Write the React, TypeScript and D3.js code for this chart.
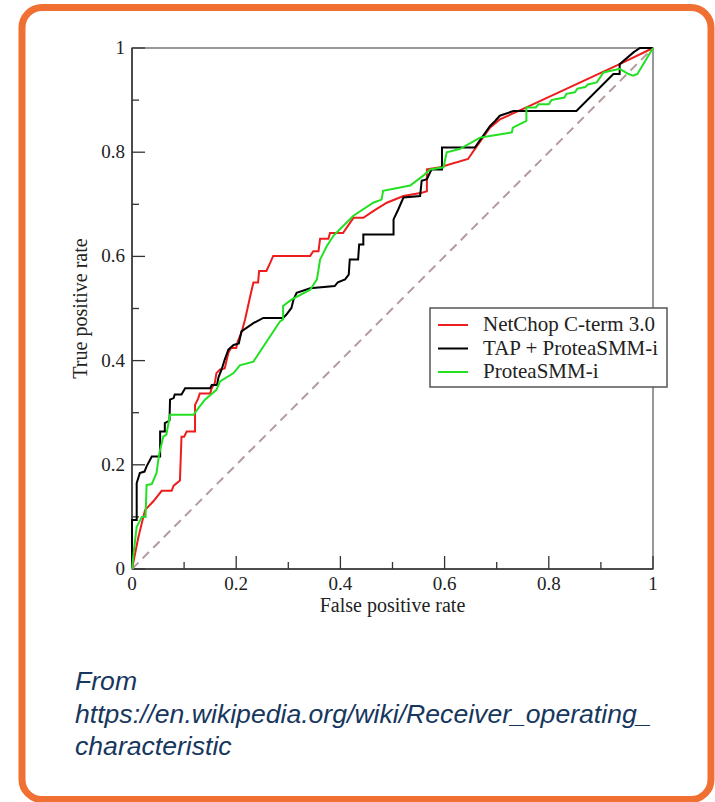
import React from "react";
import * as d3 from "d3";

type Pt = [number, number];

const seriesNames = ["NetChop C-term 3.0", "TAP + ProteaSMM-i", "ProteaSMM-i"];
const seriesColors = ["#ee1c1c", "#000000", "#22e022"];

const netChop: Pt[] = [
  [0, 0], [0.012, 0.06], [0.025, 0.113], [0.041, 0.13], [0.057, 0.15], [0.076, 0.15], [0.08, 0.16],
  [0.092, 0.17], [0.095, 0.254], [0.1, 0.254], [0.105, 0.264], [0.121, 0.264], [0.121, 0.315],
  [0.127, 0.327], [0.13, 0.337], [0.15, 0.337], [0.153, 0.347], [0.159, 0.357], [0.162, 0.376],
  [0.169, 0.383], [0.178, 0.385], [0.185, 0.415], [0.19, 0.424], [0.2, 0.424], [0.203, 0.437],
  [0.21, 0.453], [0.217, 0.479], [0.227, 0.524], [0.233, 0.55], [0.242, 0.55], [0.244, 0.572],
  [0.258, 0.572], [0.265, 0.587], [0.271, 0.601], [0.342, 0.601], [0.348, 0.61], [0.358, 0.61],
  [0.361, 0.634], [0.377, 0.634], [0.38, 0.645], [0.405, 0.645], [0.425, 0.674], [0.444, 0.674],
  [0.463, 0.687], [0.489, 0.703], [0.521, 0.716], [0.556, 0.722], [0.566, 0.725], [0.566, 0.767],
  [0.591, 0.771], [0.645, 0.787], [0.658, 0.806], [0.687, 0.847], [0.706, 0.863], [0.757, 0.886],
  [0.936, 0.969], [1, 1],
];

const tapProtea: Pt[] = [
  [0, 0], [0, 0.094], [0.009, 0.094], [0.009, 0.165], [0.015, 0.184], [0.024, 0.187], [0.028, 0.197],
  [0.038, 0.216], [0.054, 0.216], [0.054, 0.264], [0.063, 0.264], [0.063, 0.28], [0.072, 0.285],
  [0.073, 0.325], [0.08, 0.328], [0.082, 0.335], [0.095, 0.335], [0.102, 0.347], [0.15, 0.347],
  [0.153, 0.353], [0.163, 0.353], [0.166, 0.368], [0.172, 0.383], [0.178, 0.402], [0.185, 0.421],
  [0.195, 0.43], [0.205, 0.433], [0.21, 0.456], [0.233, 0.472], [0.252, 0.482], [0.29, 0.482],
  [0.296, 0.488], [0.306, 0.501], [0.31, 0.517], [0.316, 0.53], [0.342, 0.539], [0.389, 0.543],
  [0.395, 0.55], [0.409, 0.556], [0.416, 0.565], [0.418, 0.594], [0.434, 0.594], [0.436, 0.623],
  [0.444, 0.623], [0.444, 0.642], [0.502, 0.642], [0.502, 0.671], [0.511, 0.69], [0.521, 0.713],
  [0.553, 0.716], [0.556, 0.745], [0.566, 0.748], [0.572, 0.761], [0.575, 0.767], [0.595, 0.767],
  [0.595, 0.809], [0.658, 0.809], [0.687, 0.85], [0.697, 0.86], [0.706, 0.87], [0.732, 0.879],
  [0.853, 0.879], [0.924, 0.95], [0.936, 0.95], [0.936, 0.969], [0.963, 0.992], [0.975, 1], [1, 1],
];

const protea: Pt[] = [
  [0, 0], [0.003, 0.03], [0.009, 0.081], [0.019, 0.1], [0.026, 0.1], [0.028, 0.161], [0.038, 0.163],
  [0.047, 0.184], [0.052, 0.22], [0.06, 0.254], [0.066, 0.258], [0.073, 0.296], [0.118, 0.296],
  [0.13, 0.312], [0.14, 0.325], [0.162, 0.344], [0.169, 0.36], [0.195, 0.376], [0.207, 0.391],
  [0.233, 0.398], [0.284, 0.475], [0.29, 0.479], [0.29, 0.505], [0.306, 0.517], [0.342, 0.536],
  [0.355, 0.556], [0.361, 0.594], [0.374, 0.62], [0.387, 0.64], [0.402, 0.655], [0.425, 0.678],
  [0.463, 0.703], [0.479, 0.709], [0.482, 0.726], [0.534, 0.736], [0.559, 0.755], [0.572, 0.767],
  [0.598, 0.771], [0.604, 0.8], [0.629, 0.806], [0.668, 0.828], [0.687, 0.831], [0.729, 0.838],
  [0.731, 0.847], [0.757, 0.86], [0.757, 0.886], [0.775, 0.886], [0.78, 0.892], [0.8, 0.892],
  [0.805, 0.9], [0.815, 0.902], [0.83, 0.905], [0.834, 0.912], [0.85, 0.915], [0.855, 0.922],
  [0.87, 0.925], [0.875, 0.93], [0.892, 0.934], [0.905, 0.953], [0.936, 0.96], [0.953, 0.95],
  [0.962, 0.947], [0.97, 0.95], [1, 1],
];

const diagonal: Pt[] = [[0, 0], [1, 1]];

const majorTicks = [0, 0.2, 0.4, 0.6, 0.8, 1];
const minorTicks = [0.1, 0.3, 0.5, 0.7, 0.9];
const xTitle = "False positive rate";
const yTitle = "True positive rate";
const captionLines = [
  "From",
  "https://en.wikipedia.org/wiki/Receiver_operating_",
  "characteristic",
];

const fmt = (v: number) => (v === 0 ? "0" : v === 1 ? "1" : String(v));

export default function App() {
  const W = 715;
  const H = 802;
  const x = d3.scaleLinear().domain([0, 1]).range([132, 653]);
  const y = d3.scaleLinear().domain([0, 1]).range([569, 48]);
  const line = d3.line<Pt>().x((d) => x(d[0])).y((d) => y(d[1]));
  const series = [netChop, tapProtea, protea];
  const serif = "'Liberation Serif', 'Times New Roman', serif";

  return (
    <svg width={W} height={H} style={{ position: "absolute", left: 0, top: 0, background: "#fff" }}>
      <rect x={22} y={7.5} width={689} height={792} rx={20} ry={20} fill="#fff" stroke="#f07033" strokeWidth={7} />

      {/* frame */}
      <rect x={x(0)} y={y(1)} width={x(1) - x(0)} height={y(0) - y(1)} fill="none" stroke="#777" strokeWidth={1.5} />
      <line x1={x(0)} x2={x(0)} y1={y(0)} y2={y(1)} stroke="#333" strokeWidth={1.5} />
      <line x1={x(0)} x2={x(1)} y1={y(0)} y2={y(0)} stroke="#333" strokeWidth={1.5} />

      {/* ticks */}
      {majorTicks.map((t) => (
        <g key={"mx" + t}>
          <line x1={x(t)} x2={x(t)} y1={y(0)} y2={y(0) - 13} stroke="#333" strokeWidth={1.3} />
          <line x1={x(0)} x2={x(0) + 13} y1={y(t)} y2={y(t)} stroke="#333" strokeWidth={1.3} />
          <text x={x(t)} y={590} textAnchor="middle" fontFamily={serif} fontSize={19} fill="#222">
            {fmt(t)}
          </text>
          <text x={x(0) - 7} y={y(t) + 6} textAnchor="end" fontFamily={serif} fontSize={19} fill="#222">
            {fmt(t)}
          </text>
        </g>
      ))}
      {minorTicks.map((t) => (
        <g key={"mn" + t}>
          <line x1={x(t)} x2={x(t)} y1={y(0)} y2={y(0) - 7} stroke="#333" strokeWidth={1.3} />
          <line x1={x(0)} x2={x(0) + 7} y1={y(t)} y2={y(t)} stroke="#333" strokeWidth={1.3} />
        </g>
      ))}

      <text x={(x(0) + x(1)) / 2} y={612} textAnchor="middle" fontFamily={serif} fontSize={20} fill="#222">
        {xTitle}
      </text>
      <text
        transform={`translate(87, ${(y(0) + y(1)) / 2}) rotate(-90)`}
        textAnchor="middle"
        fontFamily={serif}
        fontSize={20}
        fill="#222"
      >
        {yTitle}
      </text>

      <path d={line(diagonal) || ""} fill="none" stroke="#b39c9c" strokeWidth={2} strokeDasharray="9,6" />

      {series.map((s, i) => (
        <path key={i} d={line(s) || ""} fill="none" stroke={seriesColors[i]} strokeWidth={2} strokeLinejoin="miter" />
      ))}

      {/* legend */}
      <rect x={430} y={308} width={237} height={79} fill="#fff" stroke="#555" strokeWidth={1.5} />
      {seriesNames.map((n, i) => (
        <g key={n}>
          <line x1={438} x2={468} y1={325 + i * 23.5} y2={325 + i * 23.5} stroke={seriesColors[i]} strokeWidth={2} />
          <text x={483} y={331 + i * 23.5} fontFamily={serif} fontSize={21} fill="#222">
            {n}
          </text>
        </g>
      ))}

      {captionLines.map((c, i) => (
        <text
          key={i}
          x={75}
          y={690 + i * 32.5}
          fontFamily="'Liberation Sans', Arial, sans-serif"
          fontStyle="italic"
          fontSize={26.6}
          fill="#17375e"
        >
          {c}
        </text>
      ))}
    </svg>
  );
}
